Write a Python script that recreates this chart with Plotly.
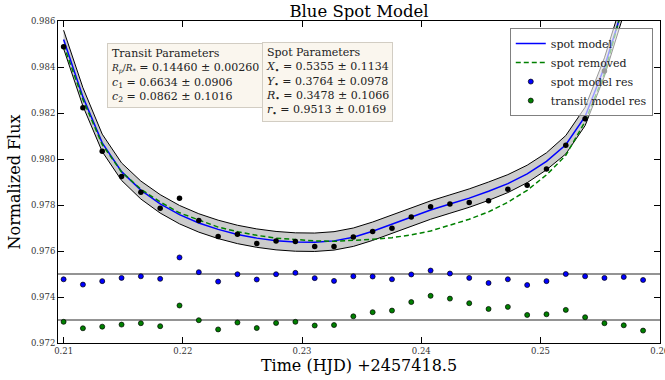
import plotly.graph_objects as go

# ---------------- data ----------------
time = [0.21000, 0.21162, 0.21324, 0.21486, 0.21648, 0.21810, 0.21972, 0.22134,
        0.22296, 0.22458, 0.22620, 0.22782, 0.22944, 0.23106, 0.23268, 0.23430,
        0.23592, 0.23754, 0.23916, 0.24078, 0.24240, 0.24402, 0.24564, 0.24726,
        0.24888, 0.25050, 0.25212, 0.25374, 0.25536, 0.25698, 0.25860]

flux = [0.98488, 0.98223, 0.98034, 0.97924, 0.97855, 0.97786, 0.97829, 0.97733,
        0.97663, 0.97673, 0.97633, 0.97643, 0.97641, 0.97620, 0.97620, 0.97661,
        0.97685, 0.97699, 0.97748, 0.97792, 0.97804, 0.97811, 0.97818, 0.97869,
        0.97886, 0.97956, 0.98060, 0.98175, 0.98383, 0.98657, 0.98974]

spot_model = [0.98520, 0.98270, 0.98070, 0.97945, 0.97865, 0.97805, 0.97758, 0.97722,
              0.97694, 0.97672, 0.97656, 0.97645, 0.97639, 0.97638, 0.97644, 0.97660,
              0.97686, 0.97716, 0.97748, 0.97778, 0.97804, 0.97830, 0.97860, 0.97893,
              0.97935, 0.97990, 0.98062, 0.98185, 0.98400, 0.98670, 0.99000]

model_sigma = [0.00040, 0.00040, 0.00038, 0.00038, 0.00039, 0.00040, 0.00040, 0.00040,
               0.00040, 0.00040, 0.00040, 0.00040, 0.00040, 0.00040, 0.00040, 0.00040,
               0.00040, 0.00040, 0.00040, 0.00040, 0.00040, 0.00040, 0.00040, 0.00039,
               0.00038, 0.00037, 0.00040, 0.00040, 0.00040, 0.00040, 0.00040]

transit_model = [0.98496, 0.98259, 0.98063, 0.97944, 0.97869, 0.97813, 0.97766, 0.97734,
                 0.97704, 0.97684, 0.97668, 0.97656, 0.97649, 0.97644, 0.97642, 0.97645,
                 0.97651, 0.97658, 0.97670, 0.97687, 0.97711, 0.97738, 0.97770, 0.97812,
                 0.97864, 0.97931, 0.98016, 0.98163, 0.98370, 0.98680, 0.99050]

spot_res = [-0.00023, -0.00046, -0.00031, -0.00017, -0.00010, -0.00021, 0.00072, 0.00008,
            -0.00033, -0.00001, -0.00024, -0.00001, 0.00005, -0.00018, -0.00030, -0.00010,
            -0.00011, -0.00023, -0.00002, 0.00015, 0.00002, -0.00017, -0.00039, -0.00023,
            -0.00048, -0.00031, 0.00000, -0.00010, -0.00017, -0.00013, -0.00026]

transit_res = [-0.00008, -0.00036, -0.00029, -0.00020, -0.00014, -0.00027, 0.00063, -0.00001,
               -0.00041, -0.00011, -0.00035, -0.00013, -0.00008, -0.00024, -0.00022, 0.00016,
               0.00034, 0.00041, 0.00078, 0.00105, 0.00093, 0.00073, 0.00048, 0.00057,
               0.00022, 0.00025, 0.00044, 0.00012, -0.00014, -0.00023, -0.00046]

spot_res_level = 0.975
transit_res_level = 0.973

x_ticks = [0.21, 0.22, 0.23, 0.24, 0.25, 0.26]
x_tick_labels = ["0.21", "0.22", "0.23", "0.24", "0.25", "0.26"]
y_ticks = [0.972, 0.974, 0.976, 0.978, 0.980, 0.982, 0.984, 0.986]
y_tick_labels = ["0.972", "0.974", "0.976", "0.978", "0.980", "0.982", "0.984", "0.986"]

transit_names = ["<span style='font-size:9px'><i>R<sub>p</sub></i>/<i>R</i><sub>*</sub></span>",
                 "<i>c</i><sub>1</sub>", "<i>c</i><sub>2</sub>"]
transit_vals = ["0.14460", "0.6634", "0.0862"]
transit_errs = ["0.00260", "0.0906", "0.1016"]

spot_names = ["<i>X</i><sub>•</sub>", "<i>Y</i><sub>•</sub>", "<i>R</i><sub>•</sub>", "<i>r</i><sub>•</sub>"]
spot_vals = ["0.5355", "0.3764", "0.3478", "0.9513"]
spot_errs = ["0.1134", "0.0978", "0.1066", "0.0169"]

FONT = "DejaVu Serif"

band_lo = [m - s for m, s in zip(spot_model, model_sigma)]
band_hi = [m + s for m, s in zip(spot_model, model_sigma)]

fig = go.Figure()
fig.add_trace(go.Scatter(x=time, y=band_lo, mode="lines", line=dict(color="black", width=1),
                         showlegend=False, hoverinfo="skip"))
fig.add_trace(go.Scatter(x=time, y=band_hi, mode="lines", line=dict(color="black", width=1),
                         fill="tonexty", fillcolor="#cccccc", showlegend=False, hoverinfo="skip"))
fig.add_trace(go.Scatter(x=time, y=spot_model, mode="lines", name="spot model",
                         line=dict(color="#0000ff", width=1.5)))
fig.add_trace(go.Scatter(x=time, y=transit_model, mode="lines", name="spot removed",
                         line=dict(color="#008000", width=1.5, dash="5px,3px")))
fig.add_trace(go.Scatter(x=time, y=flux, mode="markers", showlegend=False,
                         marker=dict(color="black", size=5.5)))
fig.add_trace(go.Scatter(x=time, y=[r + spot_res_level for r in spot_res], mode="markers",
                         name="spot model res",
                         marker=dict(color="#0000ff", size=5, line=dict(color="black", width=0.7))))
fig.add_trace(go.Scatter(x=time, y=[r + transit_res_level for r in transit_res], mode="markers",
                         name="transit model res",
                         marker=dict(color="#008000", size=5, line=dict(color="black", width=0.7))))

for lvl in (spot_res_level, transit_res_level):
    fig.add_shape(type="line", xref="paper", x0=0, x1=1, yref="y", y0=lvl, y1=lvl,
                  line=dict(color="#707070", width=1.5), layer="below")

transit_text = "Transit Parameters<br>" + "<br>".join(
    f"{n} = {v} ± {e}" for n, v, e in zip(transit_names, transit_vals, transit_errs))
spot_text = "Spot Parameters<br>" + "<br>".join(
    f"{n} = {v} ± {e}" for n, v, e in zip(spot_names, spot_vals, spot_errs))

box_style = dict(xref="paper", yref="paper", showarrow=False, align="left",
                 xanchor="left", yanchor="top", bgcolor="#faf6ee", bordercolor="#d2cdc3",
                 borderwidth=1, borderpad=3, font=dict(family=FONT, size=11, color="#222"))
fig.add_annotation(x=0.082, y=0.932, text=transit_text, **box_style)
fig.add_annotation(x=0.339, y=0.935, text=spot_text, **box_style)

axis_common = dict(showgrid=False, zeroline=False, showline=True, linecolor="black", linewidth=1,
                   mirror="ticks", ticks="inside", ticklen=6, tickcolor="black", automargin=False,
                   ticklabeloverflow="allow",
                   tickfont=dict(family=FONT, size=8.5, color="#333"))

fig.update_layout(
    width=665, height=380,
    margin=dict(l=58, r=5, t=21, b=37),
    paper_bgcolor="white", plot_bgcolor="white",
    title=dict(text="Blue Spot Model", x=0.5, xref="paper", xanchor="center",
               y=1 - 11 / 380, yref="container", yanchor="middle",
               font=dict(family=FONT, size=16.5, color="black")),
    xaxis=dict(range=[0.20953, 0.26002], tickvals=x_ticks, ticktext=x_tick_labels,
               title=dict(text="Time (HJD) +2457418.5", standoff=4,
                          font=dict(family=FONT, size=16, color="black")),
               **axis_common),
    yaxis=dict(range=[0.972, 0.986], tickvals=y_ticks, ticktext=y_tick_labels,
               title=dict(text="Normalized Flux", standoff=6,
                          font=dict(family=FONT, size=16, color="black")),
               **axis_common),
    legend=dict(x=0.988, y=0.978, xanchor="right", yanchor="top", traceorder="normal",
                bgcolor="rgba(255,255,255,0.6)", bordercolor="#808080", borderwidth=1,
                font=dict(family=FONT, size=11, color="#222"), tracegroupgap=0),
    showlegend=True,
)

fig.write_html("out.html", config={"displayModeBar": False},
               post_script="document.body.style.margin='0px';")
